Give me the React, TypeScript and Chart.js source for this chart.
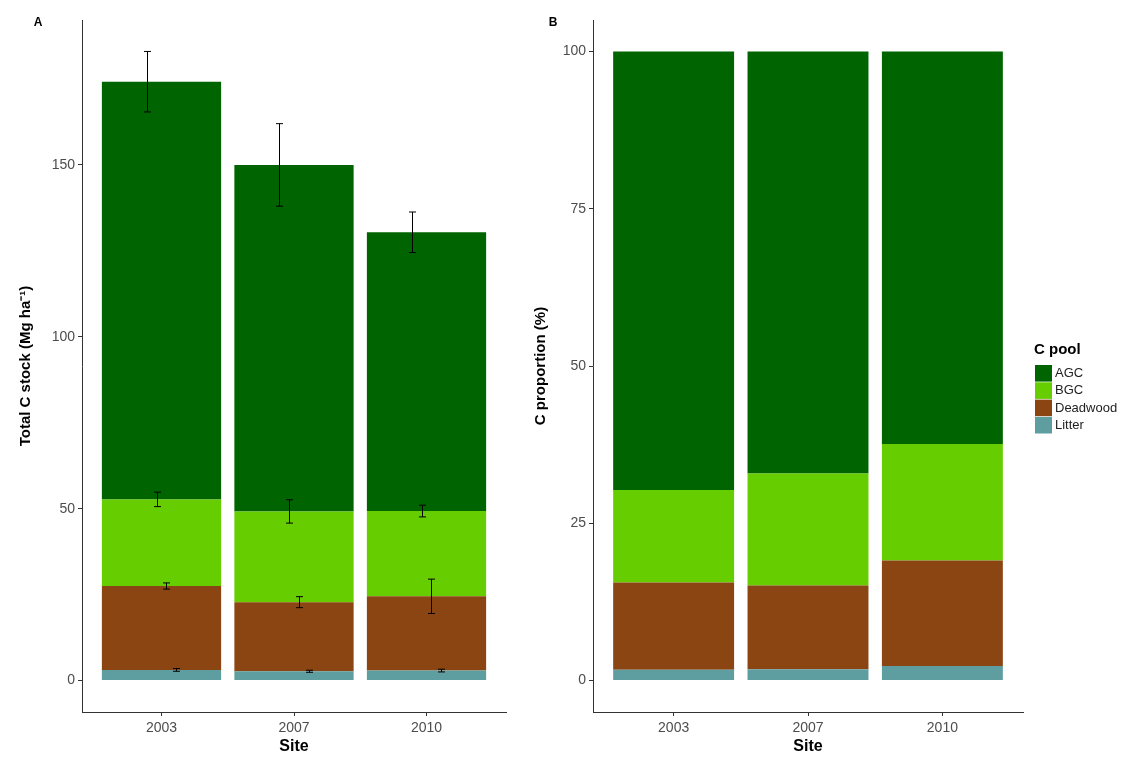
import React, { useEffect, useRef } from "react";
import { Chart, registerables } from "chart.js";
Chart.register(...registerables);

// ---------- data ----------
const sites = ["2003", "2007", "2010"];
const poolNames = ["Litter", "Deadwood", "BGC", "AGC"]; // stacking order (bottom -> top)
const poolColors = ["#5F9EA0", "#8B4513", "#66CD00", "#006400"];
const legendTitle = "C pool";

// Panel A: mean C stock (Mg ha-1)
const stockLitter = [3.1, 2.7, 2.9];
const stockDeadwood = [24.4, 20.1, 21.6];
const stockBGC = [25.2, 26.4, 24.8];
const stockAGC = [121.5, 100.8, 81.1];
// Panel A: error bar half-widths
const errLitter = [0.4, 0.3, 0.4];
const errDeadwood = [0.9, 1.6, 5.0];
const errBGC = [2.1, 3.4, 1.7];
const errAGC = [8.8, 12.0, 5.9];

// Panel B: C proportion (%)
const propLitter = [1.7, 1.8, 2.3];
const propDeadwood = [13.9, 13.3, 16.8];
const propBGC = [14.7, 17.8, 18.5];
const propAGC = [69.7, 67.1, 62.4];

const yTicksA = [0, 50, 100, 150];
const yTicksB = [0, 25, 50, 75, 100];

// ---------- styling ----------
const FONT = "'Liberation Sans', Arial, Helvetica, sans-serif";
const AXIS_COLOR = "#333333";
const TICK_TEXT = "#4D4D4D";
const DODGE = [0.1125, 0.0375, -0.0375, -0.1125]; // error bar dodge per pool (category units)

const errorBarPlugin = {
  id: "errbars",
  afterDatasetsDraw(chart: any, _args: any, opts: any) {
    if (!opts || !opts.errors) return;
    const { ctx } = chart;
    const xs = chart.scales.x;
    const ys = chart.scales.y;
    const dsets = chart.data.datasets;
    ctx.save();
    ctx.strokeStyle = "#000";
    ctx.lineWidth = 1;
    for (let i = 0; i < sites.length; i++) {
      let cum = 0;
      for (let d = 0; d < dsets.length; d++) {
        cum += dsets[d].data[i].y;
        const e = opts.errors[d][i];
        const px = Math.round(xs.getPixelForValue(i + DODGE[d])) + 0.5;
        const yt = ys.getPixelForValue(cum + e);
        const yb = ys.getPixelForValue(cum - e);
        ctx.beginPath();
        ctx.moveTo(px, yt);
        ctx.lineTo(px, yb);
        ctx.moveTo(px - 3.5, yt);
        ctx.lineTo(px + 3.5, yt);
        ctx.moveTo(px - 3.5, yb);
        ctx.lineTo(px + 3.5, yb);
        ctx.stroke();
      }
    }
    ctx.restore();
  },
};

const panelLabelPlugin = {
  id: "panelLabel",
  afterDraw(chart: any, _args: any, opts: any) {
    if (!opts || !opts.text) return;
    const { ctx } = chart;
    ctx.save();
    ctx.font = `bold 12px ${FONT}`;
    ctx.fillStyle = "#000";
    ctx.textAlign = "center";
    ctx.textBaseline = "middle";
    ctx.fillText(opts.text, opts.x, opts.y);
    ctx.restore();
  },
};

const legendPlugin = {
  id: "poolLegend",
  afterDraw(chart: any, _args: any, opts: any) {
    if (!opts || !opts.display) return;
    const { ctx } = chart;
    const dsets = chart.data.datasets;
    ctx.save();
    ctx.font = `bold 15px ${FONT}`;
    ctx.fillStyle = "#000";
    ctx.textAlign = "left";
    ctx.textBaseline = "middle";
    ctx.fillText(opts.title, opts.x, opts.y);
    const order = dsets.map((_: any, i: number) => i).reverse();
    order.forEach((di: number, k: number) => {
      const top = opts.y + 15 + k * 17.3;
      ctx.fillStyle = dsets[di].backgroundColor;
      ctx.fillRect(opts.x + 1, top, 17, 16.6);
      ctx.fillStyle = "#222";
      ctx.font = `13px ${FONT}`;
      ctx.fillText(dsets[di].label, opts.x + 21, top + 8.6);
    });
    ctx.restore();
  },
};

function makeDatasets(series: number[][]) {
  return series.map((vals, d) => ({
    label: poolNames[d],
    data: vals.map((v, i) => ({ x: i, y: v })),
    backgroundColor: poolColors[d],
    borderWidth: 0,
    categoryPercentage: 0.9,
    barPercentage: 1,
  }));
}

function makeOptions(p: {
  yMin: number;
  yMax: number;
  yTicks: number[];
  yTitle: string;
  yWidth: number;
  yTitlePad: number;
  padRight: number;
  plugins: any;
}) {
  return {
    animation: false,
    responsive: false,
    maintainAspectRatio: false,
    events: [],
    layout: { padding: { top: 20, right: p.padRight, left: 0, bottom: 0 } },
    plugins: {
      legend: { display: false },
      tooltip: { enabled: false },
      ...p.plugins,
    },
    scales: {
      x: {
        type: "linear",
        stacked: true,
        offset: false,
        min: -0.6,
        max: 2.6,
        afterBuildTicks: (s: any) => {
          s.ticks = sites.map((_, i) => ({ value: i }));
        },
        afterFit: (s: any) => {
          s.height = 46;
        },
        ticks: {
          callback: (v: any) => sites[v] ?? "",
          font: { family: FONT, size: 14 },
          color: TICK_TEXT,
          padding: 4,
          maxRotation: 0,
          autoSkip: false,
        },
        grid: {
          offset: false,
          drawOnChartArea: false,
          drawTicks: true,
          tickLength: 4,
          color: AXIS_COLOR,
        },
        border: { display: true, color: AXIS_COLOR, width: 1 },
        title: {
          display: true,
          text: "Site",
          font: { family: FONT, size: 16, weight: "bold" },
          color: "#000",
          padding: { top: 0, bottom: 2 },
        },
      },
      y: {
        stacked: true,
        min: p.yMin,
        max: p.yMax,
        afterBuildTicks: (s: any) => {
          s.ticks = p.yTicks.map((v) => ({ value: v }));
        },
        afterFit: (s: any) => {
          s.width = p.yWidth;
        },
        ticks: {
          font: { family: FONT, size: 14 },
          color: TICK_TEXT,
          padding: 3,
        },
        grid: { drawOnChartArea: false, drawTicks: true, tickLength: 4, color: AXIS_COLOR },
        border: { display: true, color: AXIS_COLOR, width: 1 },
        title: {
          display: true,
          text: p.yTitle,
          font: { family: FONT, size: 15, weight: "bold" },
          color: "#000",
          padding: { top: p.yTitlePad, bottom: 0 },
        },
      },
    },
  };
}

function PanelA() {
  const ref = useRef<HTMLCanvasElement>(null);
  useEffect(() => {
    if (!ref.current) return;
    const chart = new Chart(ref.current, {
      type: "bar",
      data: {
        datasets: makeDatasets([stockLitter, stockDeadwood, stockBGC, stockAGC]) as any,
      },
      options: makeOptions({
        yMin: -9.15,
        yMax: 192.15,
        yTicks: yTicksA,
        yTitle: "Total C stock (Mg ha\u207B\u00B9)",
        yWidth: 82,
        yTitlePad: 17,
        padRight: 14,
        plugins: {
          errbars: { errors: [errLitter, errDeadwood, errBGC, errAGC] },
          panelLabel: { text: "A", x: 38, y: 23 },
        },
      }) as any,
      plugins: [errorBarPlugin, panelLabelPlugin],
    });
    return () => chart.destroy();
  }, []);
  return (
    <canvas
      ref={ref}
      width={520}
      height={758}
      style={{ position: "absolute", left: 0, top: 0, width: 520, height: 758 }}
    />
  );
}

function PanelB() {
  const ref = useRef<HTMLCanvasElement>(null);
  useEffect(() => {
    if (!ref.current) return;
    const chart = new Chart(ref.current, {
      type: "bar",
      data: {
        datasets: makeDatasets([propLitter, propDeadwood, propBGC, propAGC]) as any,
      },
      options: makeOptions({
        yMin: -5,
        yMax: 105,
        yTicks: yTicksB,
        yTitle: "C proportion (%)",
        yWidth: 73,
        yTitlePad: 12,
        padRight: 116,
        plugins: {
          panelLabel: { text: "B", x: 33, y: 23 },
          poolLegend: { display: true, title: legendTitle, x: 514, y: 350 },
        },
      }) as any,
      plugins: [panelLabelPlugin, legendPlugin],
    });
    return () => chart.destroy();
  }, []);
  return (
    <canvas
      ref={ref}
      width={619}
      height={758}
      style={{ position: "absolute", left: 520, top: 0, width: 619, height: 758 }}
    />
  );
}

export default function App() {
  return (
    <div
      style={{
        position: "absolute",
        left: 0,
        top: 0,
        width: 1139,
        height: 758,
        background: "#fff",
        overflow: "hidden",
      }}
    >
      <PanelA />
      <PanelB />
    </div>
  );
}
